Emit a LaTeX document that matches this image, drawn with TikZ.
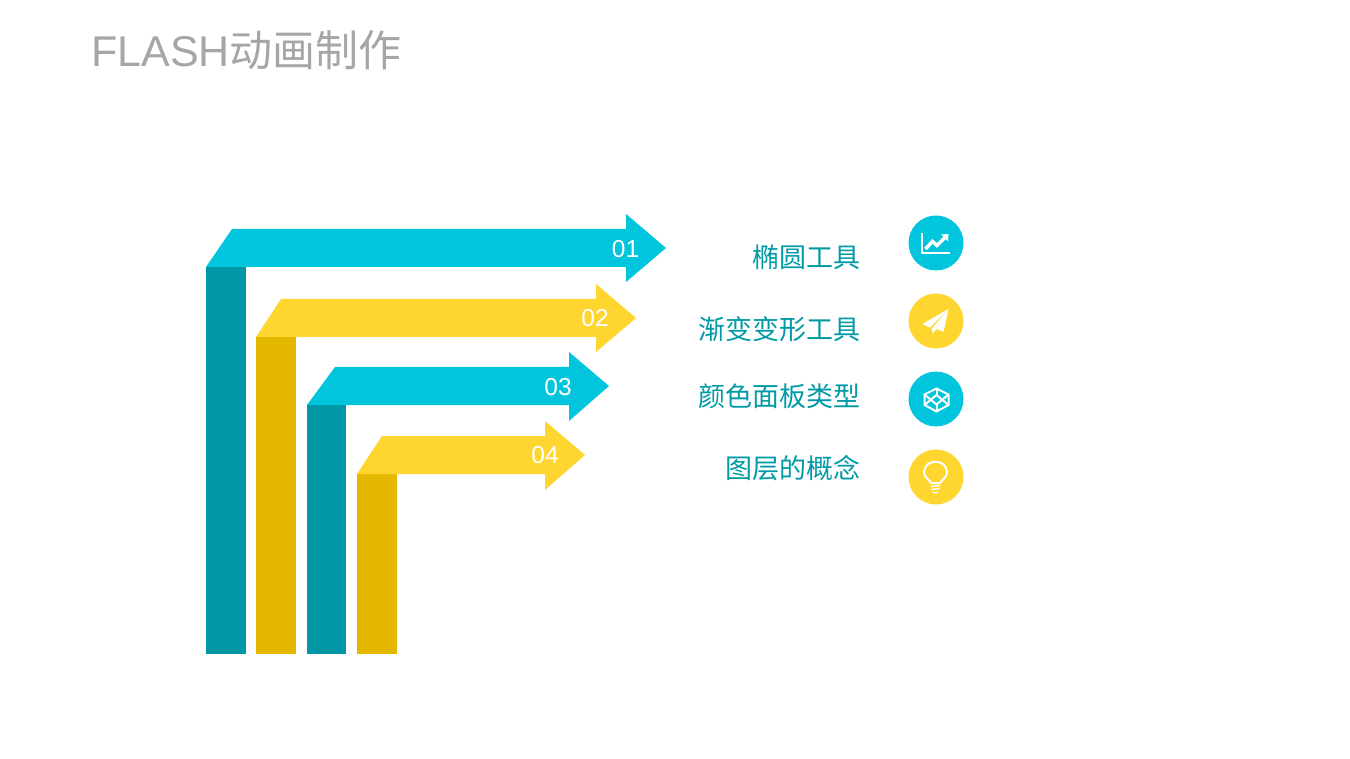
\documentclass[tikz,border=0pt]{standalone}
\usepackage{fontspec}
\setmainfont{Liberation Sans}
\newfontfamily\cjk{Noto Sans CJK SC}
\definecolor{cyanband}{HTML}{00C5DC}
\definecolor{tealbar}{HTML}{0097A7}
\definecolor{yellowband}{HTML}{FFD530}
\definecolor{yellowbar}{HTML}{E5B800}
\definecolor{labeltext}{HTML}{009AA6}
\definecolor{titlegrey}{HTML}{A6A6A6}
\tikzset{
  numtext/.style={text=white,inner sep=0pt,font=\fontsize{24.5}{25}\selectfont},
  itemtext/.style={text=labeltext,anchor=east,inner sep=0pt,font=\cjk\fontsize{27}{27}\selectfont},
  iconline/.style={draw=white,line width=2pt,line join=round,line cap=round},
  iconfill/.style={fill=white,draw=none},
  badge/.style={circle,minimum size=55pt,inner sep=0pt,draw=none}
}
\begin{document}
\begin{tikzpicture}[x=1pt,y=-1pt]
    \useasboundingbox (0,0) rectangle (1350,759);
    \node[anchor=west,inner sep=0pt,text=titlegrey,font=\fontsize{43}{43}\selectfont] (title) at (91,50) {FLASH{\cjk 动画制作}};
    % bars and arrows
    \fill[tealbar] (206,267) rectangle (246,654);
    \fill[cyanband] (206,267) -- (232,229) -- (626,229) -- (626,214) -- (666,248) -- (626,282) -- (626,267) -- cycle;
    \fill[yellowbar] (256,337) rectangle (296,654);
    \fill[yellowband] (256,337) -- (281,299) -- (596,299) -- (596,284) -- (636,318) -- (596,352) -- (596,337) -- cycle;
    \fill[tealbar] (307,405) rectangle (346,654);
    \fill[cyanband] (307,405) -- (335,367) -- (569,367) -- (569,352) -- (609,386) -- (569,421) -- (569,405) -- cycle;
    \fill[yellowbar] (357,474) rectangle (397,654);
    \fill[yellowband] (357,474) -- (382,436) -- (545,436) -- (545,421) -- (585,455) -- (545,490) -- (545,474) -- cycle;
    \node[numtext] (num1) at (625.5,249) {01};
    \node[numtext] (num2) at (595,318.5) {02};
    \node[numtext] (num3) at (558,387) {03};
    \node[numtext] (num4) at (545,455.5) {04};
    % labels
    \node[itemtext] (item1) at (860.5,257) {椭圆工具};
    \node[itemtext] (item2) at (860.5,329) {渐变变形工具};
    \node[itemtext] (item3) at (860.5,396) {颜色面板类型};
    \node[itemtext] (item4) at (860.5,468) {图层的概念};
    % badges
    \node[badge,fill=cyanband] (badge1) at (936,243) {};
    \node[badge,fill=yellowband] (badge2) at (936,321) {};
    \node[badge,fill=cyanband] (badge3) at (936,399) {};
    \node[badge,fill=yellowband] (badge4) at (936,477) {};
    % chart icon
    \draw[iconline,line cap=butt] (921.7,233.5) -- (921.7,253.3) -- (950,253.3);
    \draw[draw=white,line width=3.5pt,line join=miter] (925.5,249) -- (932.5,241.5) -- (937,245.5) -- (945,237.5);
    \fill[iconfill] (941,234.5) -- (948.5,234) -- (948,241.5) -- cycle;
    % plane icon
    \fill[iconfill] (948.5,309) -- (922.5,324) -- (930,327.5) -- cycle;
    \fill[iconfill] (948.5,309) -- (932,328.5) -- (932.5,333.5) -- (936.5,329) -- (943.5,332) -- cycle;
    % cube icon
    \draw[iconline] (936.5,388.5) -- (948.5,394.5) -- (948.5,405) -- (936.5,411.5) -- (924.5,405) -- (924.5,394.5) -- cycle;
    \draw[iconline] (924.5,394.5) -- (936.5,404.5) -- (948.5,394.5);
    \draw[iconline] (924.5,405) -- (936.5,395) -- (948.5,405);
    \draw[iconline] (936.5,388.5) -- (936.5,395) (936.5,404.5) -- (936.5,411.5);
    % bulb icon
    \draw[iconline] (931,483) .. controls (930,480) and (924,478) .. (924,472.5) .. controls (924,466) and (929,461.7) .. (935.5,461.7) .. controls (942,461.7) and (947,466) .. (947,472.5) .. controls (947,478) and (941,480) .. (940,483) -- cycle;
    \draw[iconline,line width=1.4pt] (931,486.5) -- (940,485.5) (931.5,489.5) -- (939.5,488.5) (933,492.5) -- (938,492.5);
\end{tikzpicture}
\end{document}
